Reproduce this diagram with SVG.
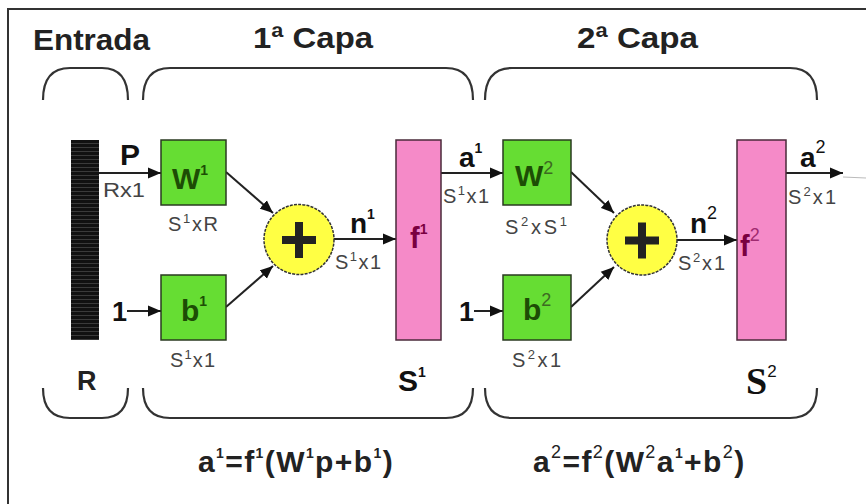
<svg xmlns="http://www.w3.org/2000/svg" width="866" height="504" viewBox="0 0 866 504">
<style>
.ttl{font-family:"Liberation Sans",Arial,sans-serif;font-weight:bold;font-size:30px;fill:#222}
.sig{font-family:"Liberation Sans",Arial,sans-serif;font-weight:bold;font-size:28px;fill:#111}
.dim{font-family:"Liberation Sans",Arial,sans-serif;font-size:20px;fill:#444}
.gtx{font-family:"Liberation Sans",Arial,sans-serif;font-weight:bold;font-size:30px;fill:#1d4d05}
.ptx{font-family:"Liberation Sans",Arial,sans-serif;font-weight:bold;font-size:29px;fill:#7a0040}
.s1{font-size:14px}
.s2{font-size:18px;font-weight:normal}
.ds{font-size:13px}
.box{fill:#66dd33;stroke:#2a3a20;stroke-width:1.5}
.fbox{fill:#f58ac8;stroke:#4a2a3a;stroke-width:1.5}
.sum{fill:#ffff44;stroke:#333;stroke-width:1.5;stroke-dasharray:3 1.2}
.con{stroke:#222;stroke-width:2;fill:none;marker-end:url(#ah)}
.brace{stroke:#333;stroke-width:2.2;fill:none}
.frm{font-family:"Liberation Sans",Arial,sans-serif;font-weight:bold;font-size:30px;fill:#222;letter-spacing:1.4px}
</style>
<defs>
<marker id="ah" markerUnits="userSpaceOnUse" markerWidth="14" markerHeight="12" refX="13" refY="6" orient="auto">
<path d="M0,0.5 L13,6 L0,11.5 Z" fill="#111"/>
</marker>
<pattern id="scan" width="4" height="4" patternUnits="userSpaceOnUse">
<rect width="4" height="4" fill="#111"/>
<rect y="3" width="4" height="1" fill="#3a3a3a"/>
</pattern>
</defs>
<rect width="866" height="504" fill="#fff"/>
<path d="M8,504 L8,9 L866,9" stroke="#333" stroke-width="2" fill="none"/>

<g id="titles">
<text class="ttl" x="33" y="50" textLength="117" lengthAdjust="spacingAndGlyphs">Entrada</text>
<text class="ttl" x="253" y="48" textLength="120" lengthAdjust="spacingAndGlyphs">1ª Capa</text>
<text class="ttl" x="577" y="48" textLength="121" lengthAdjust="spacingAndGlyphs">2ª Capa</text>
</g>

<g id="braces">
<path class="brace" d="M43,100 Q43,68 70,68 L102,68 Q128,68 128,100"/>
<path class="brace" d="M143,100 Q143,68 170,68 L446,68 Q473,68 473,100"/>
<path class="brace" d="M485,100 Q485,68 512,68 L790,68 Q817,68 817,100"/>
<path class="brace" d="M43,388 Q43,418 70,418 L102,418 Q128,418 128,388"/>
<path class="brace" d="M143,388 Q143,418 170,418 L446,418 Q473,418 473,388"/>
<path class="brace" d="M485,388 Q485,418 512,418 L790,418 Q817,418 817,388"/>
</g>

<g id="connectors">
<path class="con" d="M99,173 L161,173"/>
<path class="con" d="M127,311 L161,311"/>
<path class="con" d="M226,172 L273,213"/>
<path class="con" d="M226,307 L273,266"/>
<path class="con" d="M334,239 L396,239"/>
<path class="con" d="M441,173 L503,173"/>
<path class="con" d="M474,311 L503,311"/>
<path class="con" d="M571,172 L614,213"/>
<path class="con" d="M571,307 L614,267"/>
<path class="con" d="M677,240 L737,240"/>
<path class="con" d="M786,173 L843,173"/>
<path d="M843,177 L866,178" stroke="#bbb" stroke-width="1" fill="none"/>
</g>

<g id="input">
<rect x="71" y="140" width="28" height="200" fill="url(#scan)"/>
<text class="sig" x="77" y="390" style="font-size:27px;fill:#222">R</text>
</g>

<g id="W1">
<rect class="box" x="161" y="140" width="65" height="65"/>
<text class="gtx" x="172" y="189">W<tspan class="s1" dy="-14">1</tspan></text>
</g>
<g id="b1">
<rect class="box" x="161" y="275" width="65" height="65"/>
<text class="gtx" x="181" y="321">b<tspan class="s1" dy="-15">1</tspan></text>
</g>
<g id="sum1">
<circle class="sum" cx="299" cy="239.5" r="35"/>
<path d="M282,240 H316 M299,222 V258" stroke="#222" stroke-width="8"/>
</g>
<g id="f1">
<rect class="fbox" x="396" y="140" width="45" height="200"/>
<text class="ptx" x="410" y="248">f<tspan class="s1" dy="-14">1</tspan></text>
</g>
<g id="W2">
<rect class="box" x="503" y="140" width="68" height="65"/>
<text class="gtx" x="515" y="186">W<tspan class="s2" dy="-12" fill="#3d6a22">2</tspan></text>
</g>
<g id="b2">
<rect class="box" x="503" y="275" width="68" height="65"/>
<text class="gtx" x="523" y="320">b<tspan class="s2" dy="-14" fill="#3d6a22">2</tspan></text>
</g>
<g id="sum2">
<circle class="sum" cx="642" cy="240" r="35"/>
<path d="M625,240.5 H659 M642,222.5 V258.5" stroke="#222" stroke-width="8"/>
</g>
<g id="f2">
<rect class="fbox" x="737" y="140" width="49" height="200"/>
<text class="ptx" x="740" y="256">f<tspan class="s2" dy="-15" fill="#a02a70">2</tspan></text>
</g>

<g id="labels">
<text class="sig" x="120" y="165" style="font-size:30px">P</text>
<text class="dim" x="103" y="197" textLength="42" lengthAdjust="spacingAndGlyphs">Rx1</text>
<text class="sig" x="112" y="321" style="font-size:27px">1</text>
<text class="sig" x="459" y="321" style="font-size:27px">1</text>
<text class="dim" x="168" y="231" textLength="50">S<tspan class="ds" dy="-8">1</tspan><tspan dy="8">xR</tspan></text>
<text class="dim" x="170" y="367" textLength="45">S<tspan class="ds" dy="-8">1</tspan><tspan dy="8">x1</tspan></text>
<text class="sig" x="350" y="233">n<tspan class="s1" dy="-14">1</tspan></text>
<text class="dim" x="335" y="269" textLength="46">S<tspan class="ds" dy="-8">1</tspan><tspan dy="8">x1</tspan></text>
<text class="sig" x="459" y="167">a<tspan class="s1" dy="-14">1</tspan></text>
<text class="dim" x="443" y="203" textLength="46">S<tspan class="ds" dy="-8">1</tspan><tspan dy="8">x1</tspan></text>
<text class="dim" x="505" y="234" textLength="62">S<tspan class="ds" dy="-8">2</tspan><tspan dy="8">xS</tspan><tspan class="ds" dy="-8">1</tspan></text>
<text class="dim" x="512" y="367" textLength="49">S<tspan class="ds" dy="-8">2</tspan><tspan dy="8">x1</tspan></text>
<text class="sig" x="690" y="233">n<tspan class="s2" dy="-14">2</tspan></text>
<text class="dim" x="678" y="270" textLength="47">S<tspan class="ds" dy="-8">2</tspan><tspan dy="8">x1</tspan></text>
<text class="sig" x="800" y="167">a<tspan class="s2" dy="-14">2</tspan></text>
<text class="dim" x="788" y="204" textLength="48">S<tspan class="ds" dy="-8">2</tspan><tspan dy="8">x1</tspan></text>
<text class="sig" x="398" y="391" style="font-size:30px">S<tspan class="s1" dy="-14">1</tspan></text>
<text x="746" y="394" style="font-family:'Liberation Serif','Times New Roman',serif;font-weight:bold;font-size:38px;fill:#111">S<tspan style="font-family:'Liberation Sans',Arial,sans-serif;font-size:17px;font-weight:normal" dy="-17">2</tspan></text>
</g>

<g id="formulas">
<text class="frm" x="198" y="472">a<tspan class="s1" dy="-14">1</tspan><tspan dy="14">=f</tspan><tspan class="s1" dy="-14">1</tspan><tspan dy="14">(W</tspan><tspan class="s1" dy="-14">1</tspan><tspan dy="14">p+b</tspan><tspan class="s1" dy="-14">1</tspan><tspan dy="14">)</tspan></text>
<text class="frm" x="533" y="472">a<tspan class="s2" dy="-14">2</tspan><tspan dy="14">=f</tspan><tspan class="s2" dy="-14">2</tspan><tspan dy="14">(W</tspan><tspan class="s2" dy="-14">2</tspan><tspan dy="14">a</tspan><tspan class="s1" dy="-14">1</tspan><tspan dy="14">+b</tspan><tspan class="s2" dy="-14">2</tspan><tspan dy="14">)</tspan></text>
</g>
</svg>
